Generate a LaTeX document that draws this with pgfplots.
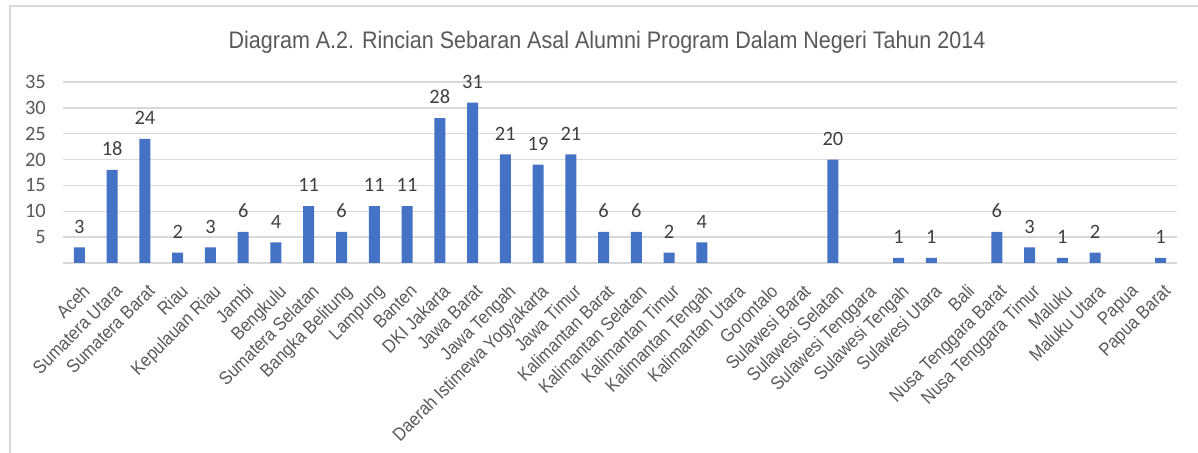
\documentclass[border=0pt]{standalone}
\usepackage{pgfplots}
\pgfplotsset{compat=1.18}
\usepackage{fontspec}
\setmainfont{Liberation Sans}
\newfontfamily\narrowfont{Liberation Sans}[FakeStretch=0.9]
\newfontfamily\carlito{Carlito}
\definecolor{barblue}{HTML}{4472C4}
\definecolor{gridgray}{HTML}{D9D9D9}
\definecolor{tickgray}{HTML}{595959}
\definecolor{labelgray}{HTML}{404040}
\definecolor{framegray}{HTML}{D9D9D9}
\begin{document}
\begin{tikzpicture}
\useasboundingbox (0,0) rectangle (1198bp,453bp);
\draw[framegray, line width=1.5bp] (10bp,-20bp) -- (10bp,447bp) -- (1240bp,447bp);
\node[anchor=base, text=tickgray, font=\narrowfont\fontsize{24}{28}\selectfont, inner sep=0pt] at (607bp,404bp)
  {Diagram A.2. Rincian Sebaran Asal Alumni Program Dalam Negeri Tahun 2014};
\begin{axis}[
  at={(63bp,190bp)}, anchor=south west,
  width=1114bp, height=181bp, scale only axis,
  xmin=-0.5, xmax=33.5, ymin=0, ymax=35,
  ytick={0,5,...,35},
  yticklabels={,5,10,15,20,25,30,35},
  xtick={0,...,33},
  xticklabels={Aceh,Sumatera Utara,Sumatera Barat,Riau,Kepulauan Riau,Jambi,Bengkulu,Sumatera Selatan,Bangka Belitung,Lampung,Banten,DKI Jakarta,Jawa Barat,Jawa Tengah,Daerah Istimewa Yogyakarta,Jawa Timur,Kalimantan Barat,Kalimantan Selatan,Kalimantan Timur,Kalimantan Tengah,Kalimantan Utara,Gorontalo,Sulawesi Barat,Sulawesi Selatan,Sulawesi Tenggara,Sulawesi Tengah,Sulawesi Utara,Bali,Nusa Tenggara Barat,Nusa Tenggara Timur,Maluku,Maluku Utara,Papua,Papua Barat},
  major tick length=0pt,
  tick style={draw=none},
  axis line style={draw=none},
  ymajorgrids,
  grid style={gridgray, line width=1.3bp},
  /pgf/number format/assume math mode=true,
  yticklabel style={font=\carlito\fontsize{20.5}{24}\selectfont, text=tickgray, anchor=east, inner sep=0pt, xshift=-17bp},
  xticklabel style={font=\narrowfont\fontsize{18.5}{22}\selectfont, text=tickgray, xshift=2bp, yshift=-20bp, rotate=45, anchor=north east, inner sep=0pt},
  ybar, bar width=11bp,
  nodes near coords={\carlito\fontsize{20.5}{24}\selectfont\pgfmathprintnumber[assume math mode=true]{\pgfplotspointmeta}},
  every node near coord/.append style={text=labelgray, inner sep=0pt, yshift=14bp},
]
\addplot[fill=barblue, draw=none] coordinates {
 (0,3) (1,18) (2,24) (3,2) (4,3) (5,6) (6,4) (7,11) (8,6) (9,11)
 (10,11) (11,28) (12,31) (13,21) (14,19) (15,21) (16,6) (17,6) (18,2) (19,4)
 (23,20) (25,1) (26,1) (28,6) (29,3) (30,1) (31,2) (33,1)
};
\end{axis}
\end{tikzpicture}
\end{document}
